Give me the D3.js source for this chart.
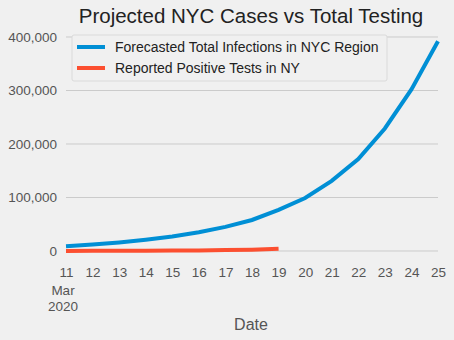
<!DOCTYPE html>
<html><head><meta charset="utf-8">
<script src="https://cdn.jsdelivr.net/npm/d3@7"></script>
<style>body{margin:0;background:#f0f0f0;}svg{display:block;font-family:"Liberation Sans",Arial,sans-serif;}</style>
</head><body><div id="chart"></div>
<script>
const days = [11,12,13,14,15,16,17,18,19,20,21,22,23,24,25];
const forecast = [9000,12000,16000,21000,27000,35000,45000,58000,77000,99000,131000,172000,229000,302000,392000];
const reportedDays = [11,12,13,14,15,16,17,18,19];
const reported = [216,325,421,613,729,950,1700,2382,4152];
const yTicks = [0,100000,200000,300000,400000];
const seriesNames = ["Forecasted Total Infections in NYC Region","Reported Positive Tests in NY"];
const colors = ["#008fd5","#fc4f30"];

const W=454,H=340;
const svg=d3.select("#chart").append("svg").attr("width",W).attr("height",H);
svg.append("rect").attr("width",W).attr("height",H).attr("fill","#f0f0f0");
const x=d3.scaleLinear().domain([11,25]).range([66,438]);
const y=d3.scaleLinear().domain([0,400000]).range([251,37]);

// grid
svg.append("g").selectAll("line").data(yTicks).join("line")
  .attr("x1",66).attr("x2",438).attr("y1",d=>y(d)).attr("y2",d=>y(d))
  .attr("stroke","#cbcbcb").attr("stroke-width",1);

// y axis
const yAxis=svg.append("g").attr("transform","translate(66,0)")
  .call(d3.axisLeft(y).tickValues(yTicks).tickSize(0).tickPadding(9).tickFormat(d3.format(",")));
yAxis.select(".domain").remove();
yAxis.selectAll("text").attr("fill","#555").attr("font-size",13.5).attr("font-family","Liberation Sans, Arial, sans-serif");

// x axis
const xAxis=svg.append("g").attr("transform","translate(0,251)")
  .call(d3.axisBottom(x).tickValues(days).tickSize(0).tickPadding(16).tickFormat(d=>String(d)));
xAxis.select(".domain").remove();
xAxis.selectAll("text").attr("fill","#555").attr("font-size",13.5).attr("font-family","Liberation Sans, Arial, sans-serif");
svg.append("text").attr("x",x(11)-3).attr("y",295).attr("text-anchor","middle").attr("fill","#555").attr("font-size",13.5).text("Mar");
svg.append("text").attr("x",x(11)-3).attr("y",311).attr("text-anchor","middle").attr("fill","#555").attr("font-size",13.5).text("2020");
svg.append("text").attr("x",251).attr("y",330).attr("text-anchor","middle").attr("fill","#555").attr("font-size",16).text("Date");

// lines
const line=d3.line().x(d=>x(d[0])).y(d=>y(d[1]));
svg.append("path").datum(days.map((d,i)=>[d,forecast[i]])).attr("d",line)
  .attr("fill","none").attr("stroke",colors[0]).attr("stroke-width",4);
svg.append("path").datum(reportedDays.map((d,i)=>[d,reported[i]])).attr("d",line)
  .attr("fill","none").attr("stroke",colors[1]).attr("stroke-width",4);

// title
svg.append("text").attr("x",251).attr("y",23).attr("text-anchor","middle").attr("fill","#222").attr("font-size",20.5).text("Projected NYC Cases vs Total Testing");

// legend
const lg=svg.append("g");
lg.append("rect").attr("x",72).attr("y",35).attr("width",315).attr("height",46).attr("rx",2)
  .attr("fill","#f0f0f0").attr("stroke","#dadada").attr("stroke-width",1);
seriesNames.forEach((n,i)=>{
  const yy=47+i*21;
  lg.append("line").attr("x1",77).attr("x2",105).attr("y1",yy).attr("y2",yy).attr("stroke",colors[i]).attr("stroke-width",4);
  lg.append("text").attr("x",115).attr("y",yy+5).attr("fill","#222").attr("font-size",14).text(n);
});
</script></body></html>
